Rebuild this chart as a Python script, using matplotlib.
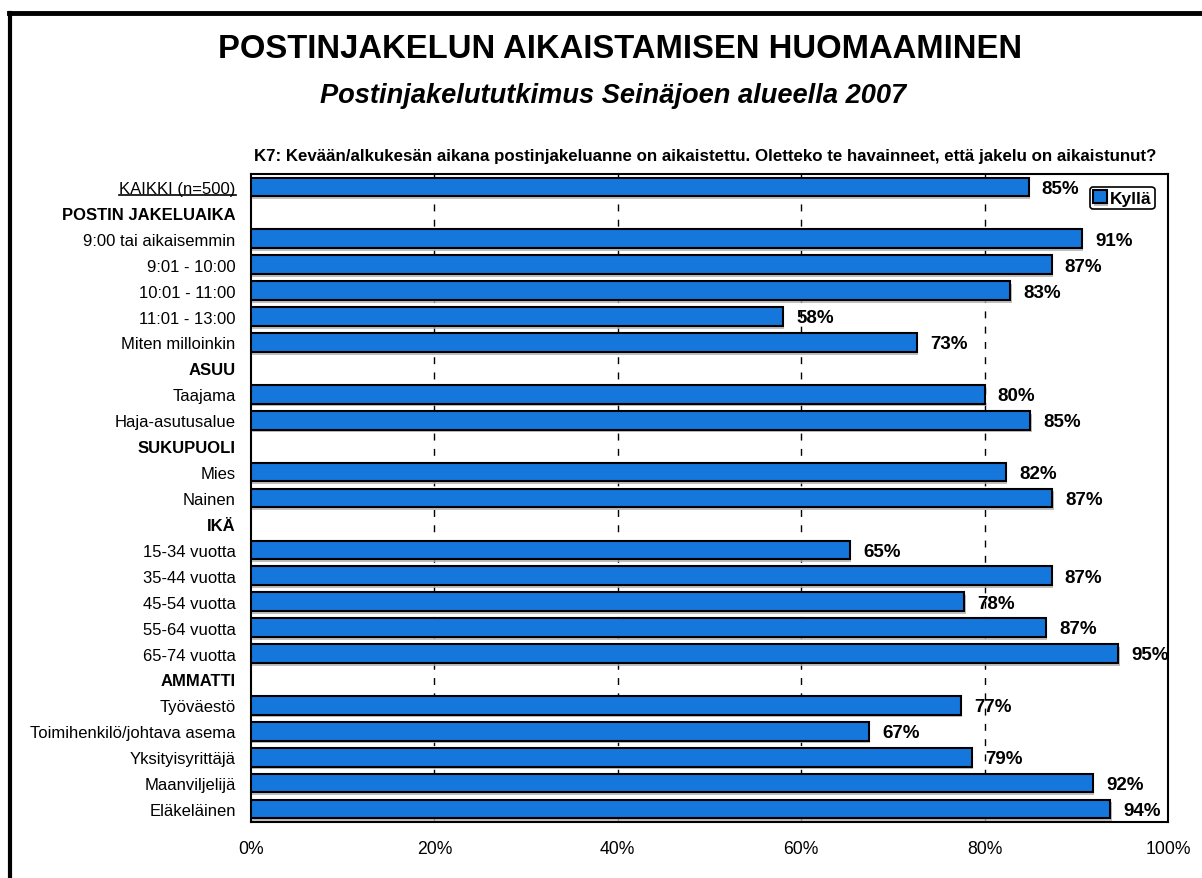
import matplotlib
matplotlib.use("Agg")
import matplotlib.pyplot as plt
import matplotlib.patheffects as pe
from matplotlib.lines import Line2D
import numpy as np

plt.rcParams["font.family"] = ["Liberation Sans", "DejaVu Sans"]

categories = [
    "KAIKKI (n=500)", "POSTIN JAKELUAIKA", "9:00 tai aikaisemmin", "9:01 - 10:00",
    "10:01 - 11:00", "11:01 - 13:00", "Miten milloinkin", "ASUU", "Taajama",
    "Haja-asutusalue", "SUKUPUOLI", "Mies", "Nainen", "IKÄ", "15-34 vuotta",
    "35-44 vuotta", "45-54 vuotta", "55-64 vuotta", "65-74 vuotta", "AMMATTI",
    "Työväestö", "Toimihenkilö/johtava asema", "Yksityisyrittäjä",
    "Maanviljelijä", "Eläkeläinen",
]
headers = ["POSTIN JAKELUAIKA", "ASUU", "SUKUPUOLI", "IKÄ", "AMMATTI"]
kylla = [
    84.8, None, 90.6, 87.3, 82.8, 58.0, 72.6, None, 80.0, 85.0, None, 82.3,
    87.4, None, 65.3, 87.3, 77.8, 86.7, 94.6, None, 77.4, 67.4, 78.6, 91.8, 93.7,
]
xticks = [0, 20, 40, 60, 80, 100]

W, H = 1202, 879
fig = plt.figure(figsize=(W / 100, H / 100), dpi=100)
ax = fig.add_axes([251 / W, 1 - 823 / H, 917 / W, 648 / H])

y = np.arange(len(categories))
vals = np.array([np.nan if v is None else v for v in kylla], dtype=float)
shadow = [pe.SimplePatchShadow(offset=(1, -2), shadow_rgbFace="#b0b0b0", alpha=0.8), pe.Normal()]
bars = ax.barh(y, np.nan_to_num(vals), height=0.72, color="#1577DB",
               edgecolor="black", linewidth=1.5, zorder=3, label="Kyllä")
for b, v in zip(bars, vals):
    if np.isnan(v):
        b.set_visible(False)
    else:
        b.set_path_effects(shadow)
        ax.annotate(f"{v:.0f}%", (v, b.get_y() + b.get_height() / 2),
                    xytext=(9.5, -1), textcoords="offset points", va="center",
                    ha="left", fontsize=13.5, fontweight="bold", zorder=4)

ax.set_xlim(0, 100)
ax.set_ylim(len(categories) - 0.5, -0.5)
ax.set_xticks(xticks)
ax.set_xticklabels([f"{t}%" for t in xticks], fontsize=12.7)
ax.set_yticks(y)
ax.set_yticklabels(categories, fontsize=12)
ax.tick_params(axis="both", length=0)
ax.tick_params(axis="x", pad=13)
ax.tick_params(axis="y", pad=11)
for lab in ax.get_yticklabels():
    if lab.get_text() in headers:
        lab.set_fontweight("bold")

for t in xticks[1:-1]:
    ax.axvline(t, color="black", linewidth=1, linestyle=(0, (5, 6)), zorder=1)
for s in ax.spines.values():
    s.set_linewidth(1.5)
    s.set_color("black")

leg = ax.legend(loc="center", bbox_to_anchor=(0.95, 0.963),
                prop={"weight": "bold", "size": 12.5}, handlelength=0.8,
                handleheight=0.8, handletextpad=0.15, borderpad=0.2,
                borderaxespad=0, framealpha=1, edgecolor="black", fancybox=True)
leg.get_frame().set_linewidth(1.2)

fig.text(620 / W, 1 - 50 / H, "POSTINJAKELUN AIKAISTAMISEN HUOMAAMINEN",
         ha="center", va="center", fontsize=23.6, fontweight="bold")
fig.text(613 / W, 1 - 96 / H, "Postinjakelututkimus Seinäjoen alueella 2007",
         ha="center", va="center", fontsize=19.6, fontweight="bold", style="italic")
fig.text(705 / W, 1 - 156 / H,
         "K7: Kevään/alkukesän aikana postinjakeluanne on aikaistettu. "
         "Oletteko te havainneet, että jakelu on aikaistunut?",
         ha="center", va="center", fontsize=12.2, fontweight="bold")

# chart border (only top and left edges visible in the original)
fig.add_artist(Line2D([9 / W, 1], [1 - 14 / H] * 2, color="black", linewidth=3.5))
fig.add_artist(Line2D([10 / W] * 2, [1 - 14 / H, 0], color="black", linewidth=3))

# underline for the total row label
fig.canvas.draw()
bb = ax.get_yticklabels()[0].get_window_extent().transformed(fig.transFigure.inverted())
fig.add_artist(Line2D([bb.x0, bb.x1], [bb.y0 + 1 / H] * 2, color="black", linewidth=1.2))

fig.savefig("out.png", dpi=100)
